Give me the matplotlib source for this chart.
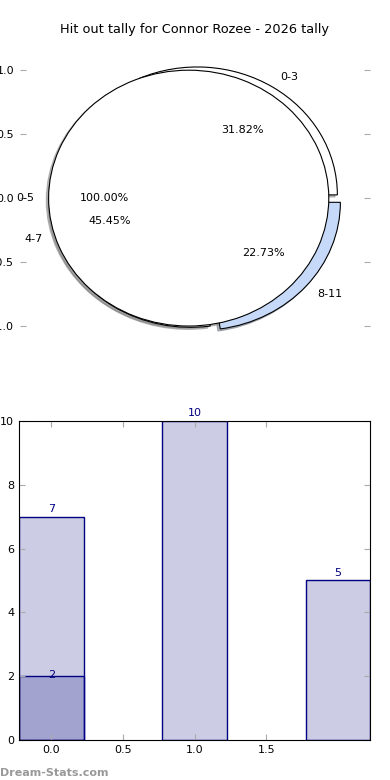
import matplotlib
matplotlib.use('Agg')
import matplotlib.pyplot as plt

title = 'Hit out tally for Connor Rozee - 2026 tally'

# pie data
outer_labels = ['0-5']
outer_vals = [22]
inner_labels = ['0-3', '4-7', '8-11']
inner_vals = [7, 10, 5]
inner_colors = ['white', 'white', '#c6d9f8']

# bar data
bar_x = [0, 1, 2]
bar_vals = [7, 10, 5]
sub_x = [0]
sub_vals = [2]

fig = plt.figure(figsize=(3.9, 7.8), dpi=100)

shadow = {'ox': -0.012, 'oy': -0.012, 'shade': 0.5}

ax = fig.add_axes([0.051, 0.541, 0.898, 0.41])
ax.pie(inner_vals, labels=inner_labels, colors=inner_colors, explode=[0.03, 0.035, 0.05],
       autopct='%1.2f%%', shadow=shadow, startangle=0,
       wedgeprops={'linewidth': 0.8, 'edgecolor': 'black'},
       textprops={'fontsize': 8})
ax.pie(outer_vals, labels=outer_labels, colors=['white'], explode=[0.045],
       autopct='%1.2f%%', shadow=shadow, startangle=0,
       wedgeprops={'linewidth': 0.8, 'edgecolor': 'black'},
       textprops={'fontsize': 8})
ax.set_aspect('auto')
ax.set_xlim(-1.25, 1.25)
ax.set_ylim(-1.25, 1.25)
ax.set_yticks([-1.0, -0.5, 0.0, 0.5, 1.0])
ax.set_xticks([])
ax.tick_params(axis='y', direction='in', length=4, color='#aaaaaa', labelsize=8,
               left=True, right=True, pad=4)
ax.set_title(title, fontsize=9.3, pad=4)

ax2 = fig.add_axes([0.049, 0.0513, 0.9, 0.409])
ax2.bar(bar_x, bar_vals, width=0.45, color='navy', alpha=0.2)
ax2.bar(bar_x, bar_vals, width=0.45, facecolor='none', edgecolor='navy', linewidth=1)
ax2.bar(sub_x, sub_vals, width=0.45, color='navy', alpha=0.2)
ax2.bar(sub_x, sub_vals, width=0.45, facecolor='none', edgecolor='navy', linewidth=1)
for x, v in zip(bar_x, bar_vals):
    ax2.text(x, v + 0.25, '%d' % v, ha='center', va='center', color='navy', fontsize=8)
for x, v in zip(sub_x, sub_vals):
    ax2.text(x, v + 0.03, '%d' % v, ha='center', va='center', color='navy', fontsize=8)
ax2.set_xlim(-0.225, 2.225)
ax2.set_ylim(0, 10)
ax2.set_xticks([0.0, 0.5, 1.0, 1.5])
ax2.set_yticks([0, 2, 4, 6, 8, 10])
ax2.tick_params(direction='in', length=4, color='#aaaaaa', labelsize=8,
                top=True, right=True)

fig.text(0.0, 0.005, 'Dream-Stats.com', color='#999999', fontsize=8, fontweight='bold')

fig.savefig('out.png', dpi=100)
